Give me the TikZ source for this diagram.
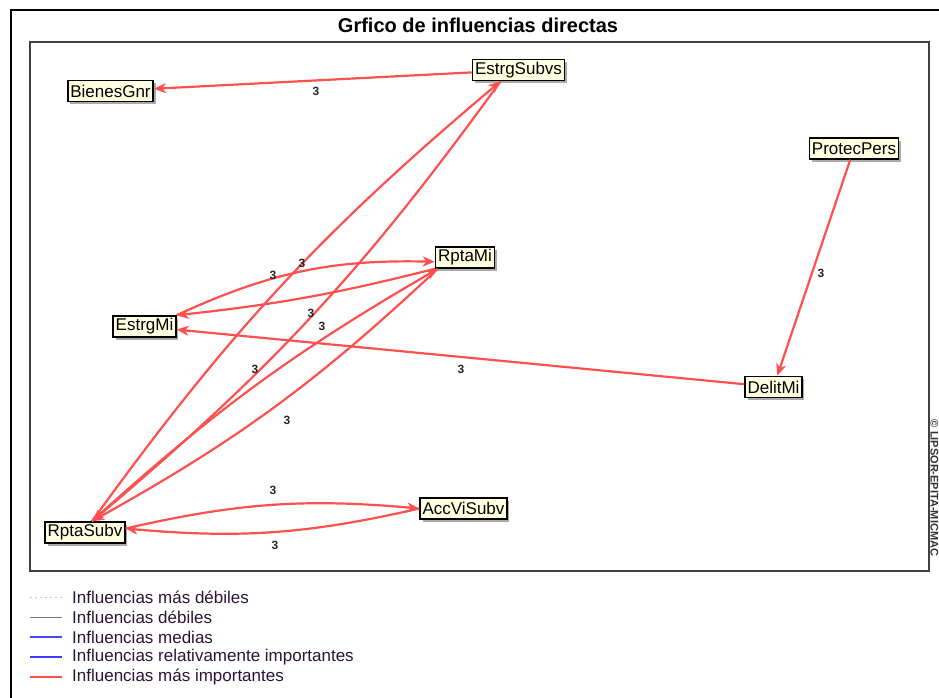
\documentclass[tikz,border=0pt]{standalone}
\usepackage{fontspec}
\setmainfont{Liberation Sans}
\usetikzlibrary{arrows.meta,shadows}
\definecolor{edgered}{RGB}{255,80,80}
\definecolor{nodefill}{RGB}{255,255,226}
\definecolor{frameg}{RGB}{64,64,64}
\definecolor{legtext}{RGB}{45,20,55}
\definecolor{legblue}{RGB}{70,70,255}
\definecolor{legblueb}{RGB}{60,60,255}
\begin{document}
\begin{tikzpicture}[x=1pt,y=1pt,
  var/.style={draw=black, line width=1.6pt, fill=nodefill,
    font=\fontsize{17}{17}\selectfont, inner xsep=2.5pt, inner ysep=0pt,
    minimum height=21pt,
    drop shadow={shadow xshift=2.5pt, shadow yshift=-2.5pt, fill=black!55, opacity=0.6}},
  infl/.style={draw=edgered, line width=2.2pt,
    -{Stealth[length=12pt,width=10pt,inset=3.5pt]}},
  lbl/.style={font=\bfseries\fontsize{12}{12}\selectfont, text=black!85, inner sep=0pt},
  legtxt/.style={anchor=west, font=\fontsize{17}{17}\selectfont, text=legtext, inner sep=0pt}
]
\useasboundingbox (0,0) rectangle (939,-698);
\fill[white] (0,0) rectangle (939,-698);
% frames
\draw[line width=2pt] (11,-10) rectangle (960,-720);
\draw[frameg, line width=2pt] (30,-42) rectangle (929,-571);
\node[font=\bfseries\fontsize{20}{20}\selectfont] (title) at (478,-25) {Grfico de influencias directas};
\node[rotate=-90, font=\bfseries\fontsize{11}{11}\selectfont, text=black!80, inner sep=0pt] (copy) at (934.5,-488) {© LIPSOR-EPITA-MICMAC};

% variables
\node[var] (BienesGnr)  at (110.5,-91)  {BienesGnr};
\node[var] (EstrgSubvs) at (518.5,-70)  {EstrgSubvs};
\node[var] (ProtecPers) at (854,-148.5) {ProtecPers};
\node[var] (RptaMi)     at (465,-257.5) {RptaMi};
\node[var] (EstrgMi)    at (144.5,-326.5) {EstrgMi};
\node[var] (DelitMi)    at (773.5,-387) {DelitMi};
\node[var] (AccViSubv)  at (463.5,-508.5) {AccViSubv};
\node[var] (RptaSubv)   at (85,-532.5)  {RptaSubv};

% influences
\draw[infl] (EstrgSubvs) -- (BienesGnr);
\draw[infl] (ProtecPers) -- (DelitMi);
\draw[infl] (DelitMi) -- (EstrgMi);
\draw[infl] ([xshift=7pt]RptaSubv.north) to[bend left=7] ([xshift=-18pt]EstrgSubvs.south);
\draw[infl] ([xshift=-18pt]EstrgSubvs.south) to[bend left=7] ([xshift=7pt]RptaSubv.north);
\draw[infl] ([xshift=7pt]RptaSubv.north) to[bend left=6] ([xshift=3pt]RptaMi.south west);
\draw[infl] ([xshift=3pt]RptaMi.south west) to[bend left=7] ([xshift=7pt]RptaSubv.north);
\draw[infl] ([yshift=4pt]RptaSubv.east) to[bend left=9] (AccViSubv.west);
\draw[infl] (AccViSubv.west) to[bend left=9] ([yshift=4pt]RptaSubv.east);
\draw[infl] (EstrgMi.north east) to[bend left=13] (RptaMi.188);
\draw[infl] (RptaMi.south west) to[bend left=4] (EstrgMi.north east);

% labels
\node[lbl] (l1)  at (316,-91)  {3};
\node[lbl] (l2)  at (821,-273) {3};
\node[lbl] (l3)  at (461,-369) {3};
\node[lbl] (l4)  at (273,-275) {3};
\node[lbl] (l5)  at (302,-263) {3};
\node[lbl] (l6)  at (311,-313) {3};
\node[lbl] (l7)  at (322,-326) {3};
\node[lbl] (l8)  at (255,-369) {3};
\node[lbl] (l9)  at (287,-420) {3};
\node[lbl] (l10) at (273,-490) {3};
\node[lbl] (l11) at (275,-545) {3};

% legend
\draw[gray!45, line width=0.9pt, dash pattern=on 2pt off 3pt] (30,-597) -- (62,-597);
\draw[gray!90!black, line width=1pt] (30,-617) -- (62,-617);
\draw[legblue, line width=1.1pt] (30,-637) -- (62,-637);
\draw[legblueb, line width=2.2pt] (30,-657) -- (62,-657);
\draw[edgered, line width=2.2pt] (30,-677) -- (62,-677);
\node[legtxt] (lg1) at (72,-597) {Influencias más débiles};
\node[legtxt] (lg2) at (72,-617) {Influencias débiles};
\node[legtxt] (lg3) at (72,-637) {Influencias medias};
\node[legtxt] (lg4) at (72,-657) {Influencias relativamente importantes};
\node[legtxt] (lg5) at (72,-677) {Influencias más importantes};
\end{tikzpicture}
\end{document}
